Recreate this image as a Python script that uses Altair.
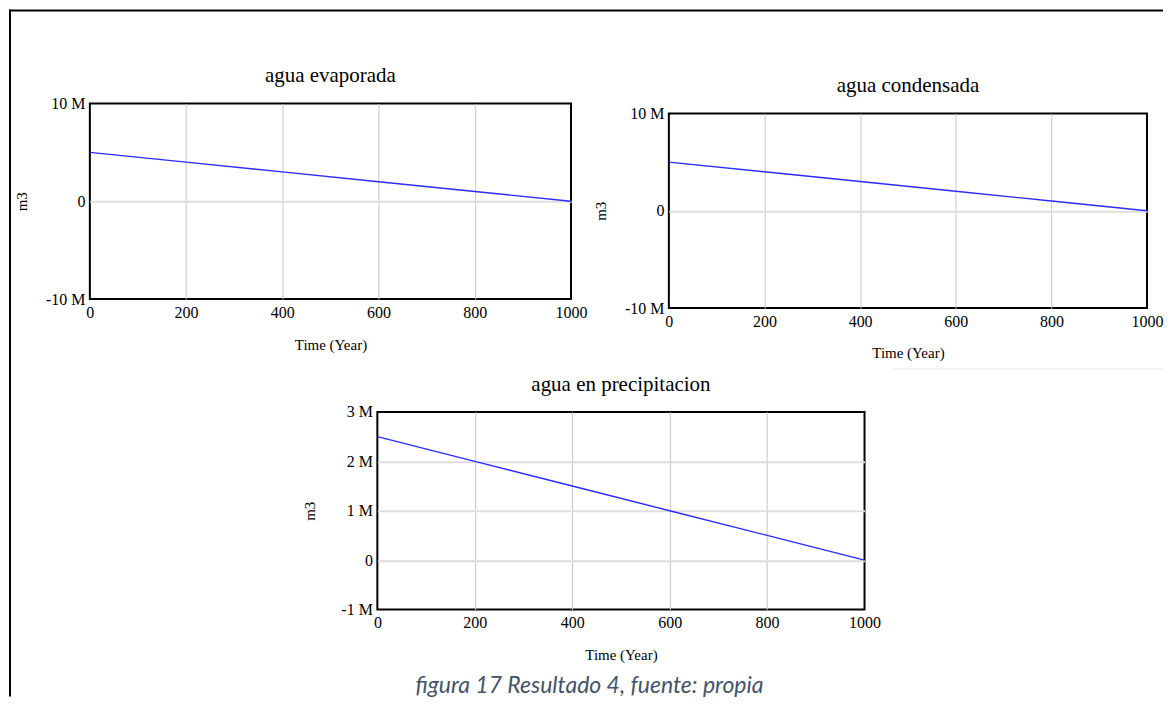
import altair as alt
import pandas as pd

# ---- data ----
time_years = [0, 200, 400, 600, 800, 1000]
agua_evaporada = [5.0e6, 4.0e6, 3.0e6, 2.0e6, 1.0e6, 0.0]
agua_condensada = [5.0e6, 4.0e6, 3.0e6, 2.0e6, 1.0e6, 0.0]
agua_precipitacion = [2.5e6, 2.0e6, 1.5e6, 1.0e6, 0.5e6, 0.0]
x_tick_values = [0, 200, 400, 600, 800, 1000]
y_ticks_big = [-10e6, 0, 10e6]
y_ticks_small = [-1e6, 0, 1e6, 2e6, 3e6]
panel_titles = ["agua evaporada", "agua condensada", "agua en precipitacion"]
x_axis_title = "Time (Year)"
y_axis_title = "m3"
caption_text = ["figura 17 Resultado 4, fuente: propia"]

SERIF = "Liberation Serif"
LINE_BLUE = "#2b2bff"
TXT = "#000000"


def panel(values, title, ydom, yticks, w, h):
    df = pd.DataFrame({"time": time_years, "value": values})
    x_axis = alt.Axis(
        values=x_tick_values, title=x_axis_title, format="d", labelFlush=False, labelOverlap=False,
        labelPadding=5, ticks=False, domain=False, grid=True,
        gridColor="#c6c6c6", gridWidth=1,
        gridOpacity={"condition": {"test": "datum.value > 0 && datum.value < 1000", "value": 1}, "value": 0},
        labelFont=SERIF, labelFontSize=16, labelColor=TXT,
        titleFont=SERIF, titleFontSize=15, titleFontWeight="normal", titleColor=TXT,
        titleX=w / 2, titleY=50, titleAlign="center", titleBaseline="alphabetic",
    )
    y_axis = alt.Axis(
        values=yticks, title=y_axis_title, labelFlush=False, labelOverlap=False,
        labelExpr="datum.value == 0 ? '0' : (datum.value / 1000000) + ' M'",
        labelPadding=5, ticks=False, domain=False, grid=True,
        gridColor="#dedede", gridWidth=2,
        gridOpacity={"condition": {"test": f"datum.value > {ydom[0]} && datum.value < {ydom[1]}", "value": 1}, "value": 0},
        labelFont=SERIF, labelFontSize=16, labelColor=TXT,
        titleFont=SERIF, titleFontSize=15, titleFontWeight="normal", titleColor=TXT,
        titleX=-68, titleY=h / 2, titleAngle=270, titleAlign="center", titleBaseline="middle",
    )
    return alt.Chart(df).mark_line(color=LINE_BLUE, strokeWidth=1.4).encode(
        x=alt.X("time:Q", scale=alt.Scale(domain=[0, 1000], nice=False, zero=False), axis=x_axis),
        y=alt.Y("value:Q", scale=alt.Scale(domain=ydom, nice=False, zero=False), axis=y_axis),
    ).properties(
        width=w, height=h,
        title=alt.TitleParams(text=title, font=SERIF, fontSize=21, fontWeight="normal", color=TXT,
                              anchor="middle", frame="group", baseline="alphabetic", offset=12, dy=20),
        view=alt.ViewBackground(stroke="black", strokeWidth=2),
    )


def spacer(w, h, layers=()):
    base = alt.Chart(pd.DataFrame({"k": [0]})).mark_point(opacity=0).encode(
        x=alt.value(0), y=alt.value(0))
    ch = alt.layer(base, *layers) if layers else base
    return ch.properties(width=w, height=h, view=alt.ViewBackground(strokeWidth=0))


one = pd.DataFrame({"k": [0]})
frame_left = alt.Chart(one).mark_rule(color="black", strokeWidth=2).encode(
    x=alt.value(-80), y=alt.value(-403), y2=alt.value(285))
frame_top = alt.Chart(one).mark_rule(color="black", strokeWidth=2).encode(
    x=alt.value(-81), x2=alt.value(1075), y=alt.value(-402))
faint = alt.Chart(one).mark_rule(color="#ececec", strokeWidth=1).encode(
    x=alt.value(805), x2=alt.value(1075), y=alt.value(-43))
caption = alt.Chart(pd.DataFrame({"caption": caption_text})).mark_text(
    font="Lato", fontStyle="italic", fontSize=23, color="#44546a",
    align="center", baseline="alphabetic").encode(
    text="caption:N", x=alt.value(500.5), y=alt.value(282))

p1 = panel(agua_evaporada, panel_titles[0], [-10e6, 10e6], y_ticks_big, 482, 196)
p2 = panel(agua_condensada, panel_titles[1], [-10e6, 10e6], y_ticks_big, 479, 195)
p3 = panel(agua_precipitacion, panel_titles[2], [-1e6, 3e6], y_ticks_small, 488, 198)

p2_wrap = alt.vconcat(spacer(479, 1), p2, spacing=9, bounds="flush")
row1 = alt.hconcat(p1, p2_wrap, spacing=98, bounds="flush")
row2 = alt.hconcat(spacer(1, 1, [frame_left, frame_top, faint, caption]), p3, spacing=287, bounds="flush")

chart = alt.vconcat(row1, row2, spacing=309, bounds="flush").properties(
    padding=0, background="white"
).configure_view(stroke="transparent")

chart.save("out.html", embed_options={"renderer": "svg", "actions": False})
